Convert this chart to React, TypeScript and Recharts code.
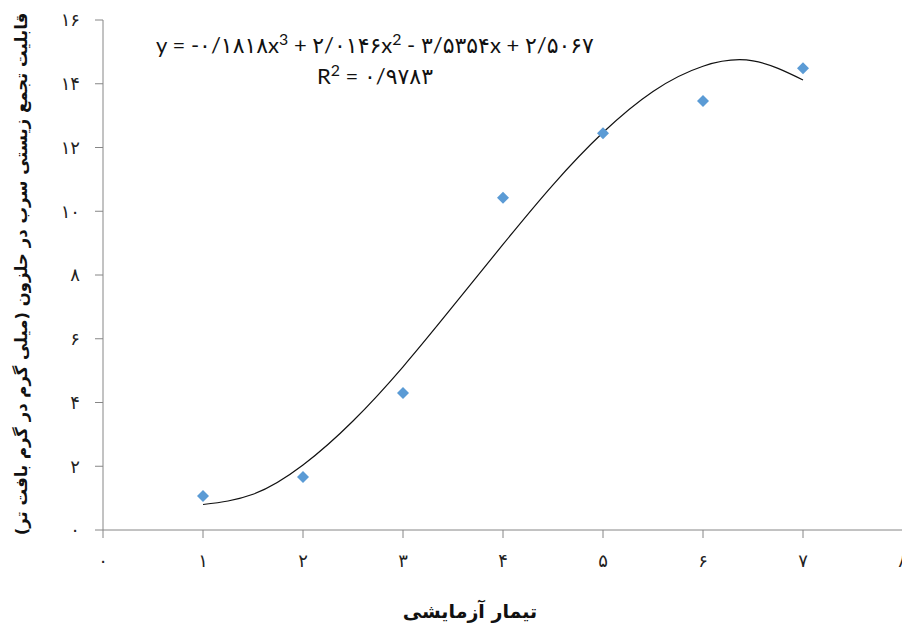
import { ComposedChart, XAxis, YAxis, Scatter, Line } from 'recharts'

const treatments = [1, 2, 3, 4, 5, 6, 7]
const accumulation = [1.07, 1.66, 4.3, 10.42, 12.45, 13.46, 14.49]

// trendline (cubic fit)
const trendX = [1, 1.5, 2, 2.5, 3, 3.5, 4, 4.5, 5, 5.5, 6, 6.5, 7]
const trendY = [0.8, 1.12, 2.04, 3.42, 5.12, 7.02, 8.96, 10.83, 12.47, 13.76, 14.55, 14.72, 14.12]

const xTicks = [0, 1, 2, 3, 4, 5, 6, 7, 8]
const yTicks = [0, 2, 4, 6, 8, 10, 12, 14, 16]

const eqTerms = ['y = -۰/۱۸۱۸x', '3', ' + ۲/۰۱۴۶x', '2', ' - ۳/۵۳۵۴x + ۲/۵۰۶۷']
const rSquared = ['R', '2', ' = ۰/۹۷۸۳']
const xTitle = 'تیمار آزمایشی'
const yTitle = 'قابلیت تجمع زیستی سرب در حلزون (میلی گرم در گرم بافت تر)'

const points = treatments.map((x, i) => ({ x, y: accumulation[i] }))
const trend = trendX.map((x, i) => ({ x, y: trendY[i] }))

const faDigits = '۰۱۲۳۴۵۶۷۸۹'
const toFa = (v: number) => String(v).replace(/\d/g, (d) => faDigits[Number(d)])

const Diamond = (props: any) => {
  const { cx, cy } = props
  const r = 6
  return (
    <path
      d={`M${cx},${cy - r}L${cx + r},${cy}L${cx},${cy + r}L${cx - r},${cy}Z`}
      fill="#5B9BD5"
    />
  )
}

// odd entries are superscripts
const Formula = ({ parts }: { parts: string[] }) => (
  <div>
    {parts.map((p, i) =>
      i % 2 ? (
        <sup key={i} style={{ fontSize: '72%', lineHeight: 0 }}>{p}</sup>
      ) : (
        <span key={i}>{p}</span>
      )
    )}
  </div>
)

const axisColor = '#868686'
const tickStyle = { fill: '#222', fontSize: 18, fontFamily: "'DejaVu Sans', sans-serif" }

export default function App() {
  return (
    <div style={{ position: 'absolute', left: 0, top: 0, width: 902, height: 626, overflow: 'hidden', background: '#fff' }}>
      <ComposedChart width={906} height={626} margin={{ top: 20, right: 3, bottom: 0, left: 0 }}>
        <XAxis
          type="number"
          dataKey="x"
          domain={[0, 8]}
          ticks={xTicks}
          interval={0}
          tickFormatter={toFa}
          stroke={axisColor}
          tickSize={8}
          tickMargin={16}
          tick={tickStyle}
          height={96}
          label={{
            content: () => (
              <text x={470} y={618} textAnchor="middle" fontSize={19} fontWeight="bold" fill="#111" fontFamily="'DejaVu Sans', sans-serif">
                {xTitle}
              </text>
            ),
          }}
        />
        <YAxis
          type="number"
          domain={[0, 16]}
          ticks={yTicks}
          interval={0}
          tickFormatter={toFa}
          stroke={axisColor}
          tickSize={8}
          tickMargin={15}
          tick={tickStyle}
          width={103}
          label={{
            content: () => (
              <text
                x={21}
                y={274}
                transform="rotate(-90 21 274)"
                textAnchor="middle"
                dominantBaseline="central"
                fontSize={16.5}
                fontWeight="bold"
                fill="#111"
                fontFamily="'DejaVu Sans', sans-serif"
              >
                {yTitle}
              </text>
            ),
          }}
        />
        <Line
          data={trend}
          dataKey="y"
          type="natural"
          stroke="#111"
          strokeWidth={1.2}
          dot={false}
          activeDot={false}
          isAnimationActive={false}
        />
        <Scatter data={points} dataKey="y" shape={<Diamond />} isAnimationActive={false} />
      </ComposedChart>
      <div
        style={{
          position: 'absolute',
          left: 135,
          top: 29,
          width: 480,
          textAlign: 'center',
          fontFamily: "Lato, 'DejaVu Sans', sans-serif",
          fontSize: 22,
          lineHeight: '31px',
          color: '#111',
          direction: 'ltr',
          unicodeBidi: 'isolate',
        }}
      >
        <Formula parts={eqTerms} />
        <Formula parts={rSquared} />
      </div>
    </div>
  )
}
